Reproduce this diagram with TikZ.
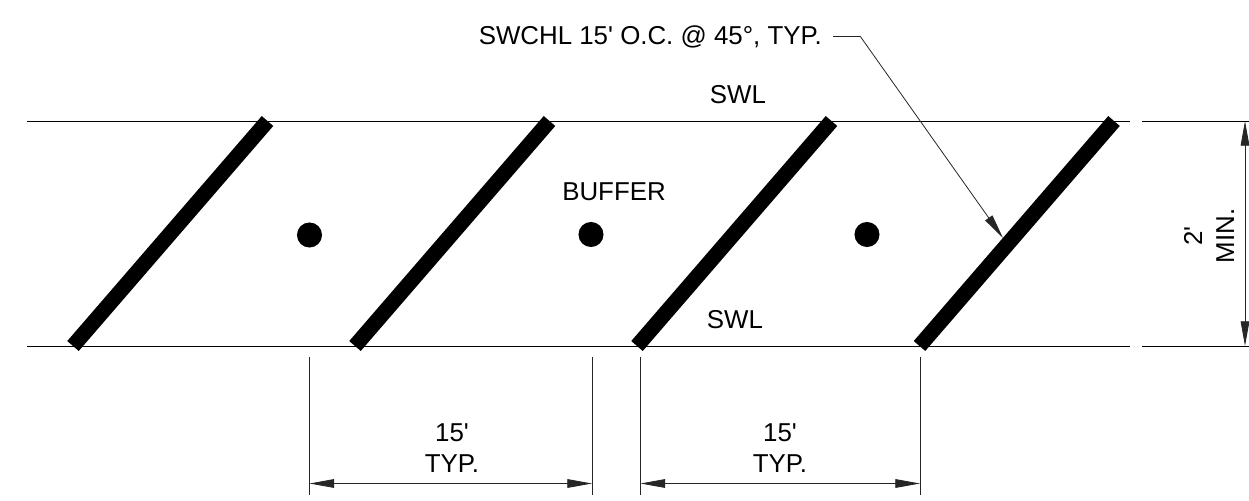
\documentclass[tikz,border=0pt]{standalone}
\usepackage{fontspec}
\setmainfont[Ligatures=TeXOff]{Liberation Sans}
\usetikzlibrary{arrows.meta}
\tikzset{
  thin line/.style={line width=0.75pt,black},
  hair/.style={line width=0.6pt,black!85},
  swchl/.style={line width=11.4pt,black,line cap=butt},
  dim/.style={hair,{Triangle[length=18.5pt,width=6.5pt]}-{Triangle[length=18.5pt,width=6.5pt]}},
  leader/.style={hair,-{Triangle[length=18.5pt,width=6.5pt]}},
  lbl/.style={font=\fontsize{19.4pt}{24pt}\selectfont,inner sep=0pt,anchor=base},
  dot/.style={circle,fill=black,draw=none,minimum size=18.8pt,inner sep=0pt}
}
\begin{document}
\begin{tikzpicture}[x=0.75pt,y=-0.75pt]
\useasboundingbox (0,0) rectangle (1249,500);
% wall lines
\coordinate (tl) at (27,121); \coordinate (tr) at (1130,121);
\coordinate (bl) at (27,346); \coordinate (br) at (1130,346);
\coordinate (etl) at (1142,121); \coordinate (etr) at (1249,121);
\coordinate (ebl) at (1142,346); \coordinate (ebr) at (1249,346);
\draw[thin line] (tl) -- (tr);
\draw[thin line] (bl) -- (br);
\draw[thin line] (etl) -- (etr);
\draw[thin line] (ebl) -- (ebr);
% blocking
\foreach \n/\xa/\xb in {1/73/267.5,2/355/549.5,3/637/831.5,4/919.5/1114}{
  \coordinate (sb\n) at (\xa,346);
  \coordinate (st\n) at (\xb,121);
  \draw[swchl] (sb\n) -- (st\n);
}
% dots
\node[dot] (d1) at (309.5,235) {};
\node[dot] (d2) at (591,234.5) {};
\node[dot] (d3) at (867,234.5) {};
% labels
\node[lbl,anchor=base east] (note) at (822,44) {SWCHL 15' O.C. @ 45°, TYP.};
\node[lbl] (swl1) at (738,103) {SWL};
\node[lbl] (swl2) at (735,328) {SWL};
\node[lbl] (buf) at (614,200) {BUFFER};
% leader
\coordinate (l0) at (833,36); \coordinate (l1) at (860,36); \coordinate (l2) at (1003,238);
\draw[hair] (l0) -- (l1);
\draw[leader] (l1) -- (l2);
% horizontal dims
\foreach \n/\x in {a/309.5,b/592,c/640.5,d/920}{
  \coordinate (\n0) at (\x,357);
  \coordinate (\n1) at (\x,495);
  \coordinate (\n-m) at (\x,483.5);
  \draw[hair] (\n0) -- (\n1);
}
\draw[dim] (a-m) -- (b-m);
\draw[dim] (c-m) -- (d-m);
\node[lbl] (t1a) at (452,441) {15'};
\node[lbl] (t1b) at (452,472) {TYP.};
\node[lbl] (t2a) at (780,441) {15'};
\node[lbl] (t2b) at (780,472) {TYP.};
% vertical dim
\coordinate (vt) at (1245,121); \coordinate (vb) at (1245,346);
\draw[dim] (vt) -- (vb);
\node[lbl,rotate=90] (v1) at (1202,236) {2'};
\node[lbl,rotate=90] (v2) at (1234,236) {MIN.};
\end{tikzpicture}
\end{document}
